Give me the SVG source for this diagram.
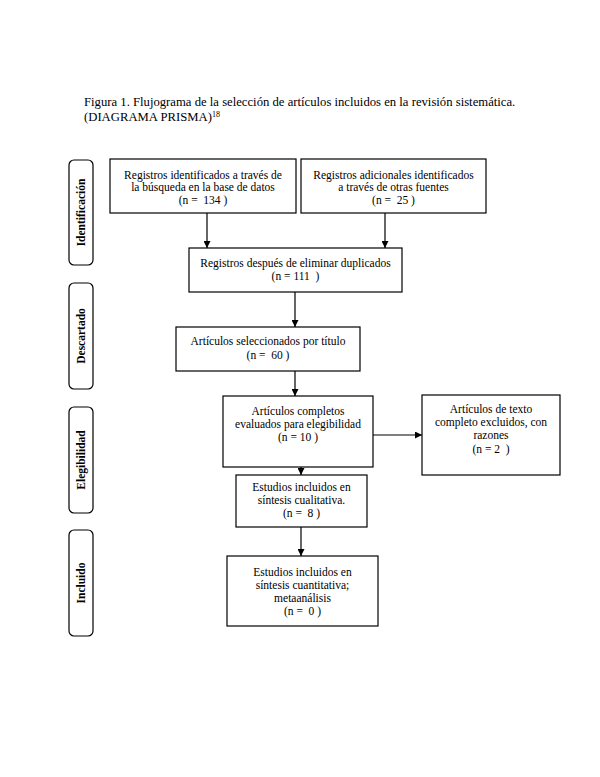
<svg xmlns="http://www.w3.org/2000/svg" width="600" height="777" viewBox="0 0 600 777">
<defs>
<marker id="ah" viewBox="0 0 10 10" refX="10" refY="5" markerWidth="7" markerHeight="7" markerUnits="userSpaceOnUse" orient="auto">
<path d="M0,0 L10,5 L0,10 z" fill="#000"/>
</marker>
<style>
text{font-family:"Liberation Serif","Times New Roman",serif;fill:#000;white-space:pre}
.t{font-size:11.5px;text-anchor:middle}
.side{font-size:11.5px;font-weight:bold;text-anchor:middle}
.box{fill:#fff;stroke:#000;stroke-width:1.2}
.phase{fill:#fff;stroke:#000;stroke-width:1.2}
.c{stroke:#000;stroke-width:1.2;fill:none;marker-end:url(#ah)}
.title{font-size:12.7px}
</style>
</defs>
<rect width="600" height="777" fill="#fff"/>
<g id="title">
<text class="title" x="84" y="106">Figura 1. Flujograma de la selección de artículos incluidos en la revisión sistemática.</text>
<text class="title" x="84" y="121">(DIAGRAMA PRISMA)<tspan font-size="8" dy="-4.5">18</tspan></text>
</g>
<g id="phase-identificacion">
<rect class="phase" x="69" y="160" width="24" height="105" rx="5"/>
<text class="side" transform="translate(85,212.5) rotate(-90)">Identificación</text>
</g>
<g id="phase-descartado">
<rect class="phase" x="69" y="283" width="24" height="106" rx="5"/>
<text class="side" transform="translate(85,336) rotate(-90)">Descartado</text>
</g>
<g id="phase-elegibilidad">
<rect class="phase" x="69" y="407" width="24" height="106" rx="5"/>
<text class="side" transform="translate(85,460) rotate(-90)">Elegibilidad</text>
</g>
<g id="phase-incluido">
<rect class="phase" x="69" y="530" width="24" height="106" rx="5"/>
<text class="side" transform="translate(85,583) rotate(-90)">Incluido</text>
</g>
<g id="connectors">
<line class="c" x1="207" y1="213" x2="207" y2="248"/>
<line class="c" x1="385" y1="213" x2="385" y2="248"/>
<line class="c" x1="295" y1="292" x2="295" y2="327"/>
<line class="c" x1="295" y1="371" x2="295" y2="396"/>
<line class="c" x1="373" y1="435" x2="422" y2="435"/>
<line class="c" x1="301" y1="467" x2="301" y2="475"/>
<line class="c" x1="301" y1="527" x2="301" y2="556"/>
</g>
<g id="box-db">
<rect class="box" x="110" y="159" width="186" height="54"/>
<text class="t" x="203" y="179">Registros identificados a través de</text>
<text class="t" x="203" y="191">la búsqueda en la base de datos</text>
<text class="t" x="203" y="204">(n =  134 )</text>
</g>
<g id="box-other">
<rect class="box" x="301" y="159" width="185" height="54"/>
<text class="t" x="393.5" y="179">Registros adicionales identificados</text>
<text class="t" x="393.5" y="191">a través de otras fuentes</text>
<text class="t" x="393.5" y="204">(n =  25 )</text>
</g>
<g id="box-dup">
<rect class="box" x="189" y="248" width="213" height="44"/>
<text class="t" x="295.5" y="267">Registros después de eliminar duplicados</text>
<text class="t" x="295.5" y="280">(n = 111  )</text>
</g>
<g id="box-title">
<rect class="box" x="176" y="327" width="184" height="44"/>
<text class="t" x="268" y="345">Artículos seleccionados por título</text>
<text class="t" x="268" y="359">(n =  60 )</text>
</g>
<g id="box-full">
<rect class="box" x="223" y="396" width="150" height="71"/>
<text class="t" x="298" y="415">Artículos completos</text>
<text class="t" x="298" y="428">evaluados para elegibilidad</text>
<text class="t" x="298" y="441">(n = 10 )</text>
</g>
<g id="box-excluded">
<rect class="box" x="422" y="395" width="138" height="80"/>
<text class="t" x="491" y="413">Artículos de texto</text>
<text class="t" x="491" y="426">completo excluidos, con</text>
<text class="t" x="491" y="439">razones</text>
<text class="t" x="491" y="453">(n = 2  )</text>
</g>
<g id="box-qual">
<rect class="box" x="236" y="475" width="131" height="52"/>
<text class="t" x="301.5" y="491">Estudios incluidos en</text>
<text class="t" x="301.5" y="504">síntesis cualitativa.</text>
<text class="t" x="301.5" y="517">(n =  8 )</text>
</g>
<g id="box-quant">
<rect class="box" x="227" y="556" width="151" height="70"/>
<text class="t" x="302.5" y="576">Estudios incluidos en</text>
<text class="t" x="302.5" y="589">síntesis cuantitativa;</text>
<text class="t" x="302.5" y="602">metaanálisis</text>
<text class="t" x="302.5" y="615">(n =  0 )</text>
</g>
</svg>
